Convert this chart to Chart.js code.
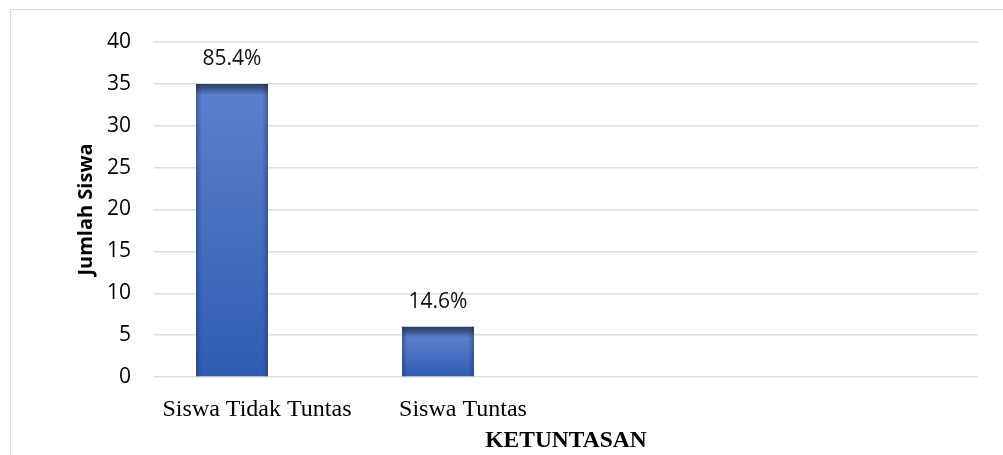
<!DOCTYPE html>
<html>
<head>
<meta charset="utf-8">
<script src="https://cdn.jsdelivr.net/npm/chart.js@4.4.0/dist/chart.umd.min.js"></script>
<style>
    html, body { margin: 0; padding: 0; background: #fff; }
    #wrap { position: relative; width: 1003px; height: 455px; overflow: hidden; }
    #frame { position: absolute; left: 10px; top: 9px; width: 1100px; height: 600px; border: 1.5px solid #d9dde4; }
    canvas { position: absolute; left: 0; top: 0; }
</style>
</head>
<body>
<div id="wrap">
    <div id="frame"></div>
    <canvas id="grafica" width="1003" height="455"></canvas>
</div>
<script>
// data dari grafik
const kategori = ['Siswa Tidak Tuntas', 'Siswa Tuntas'];
const jumlahSiswa = [35, 6];
const persentase = ['85.4%', '14.6%'];
const yMin = 0;
const yMax = 40;
const yStep = 5;

// gradasi vertikal batang (tepi atas gelap)
function isiBatang(ctx) {
    const chart = ctx.chart;
    const y = chart.scales.y;
    if (!y || !ctx.parsed) return '#4472c4';
    const top = y.getPixelForValue(ctx.parsed.y);
    const base = y.getPixelForValue(0);
    const h = base - top;
    if (!isFinite(h) || h < 2) return '#4472c4';
    const s = Math.min(0.45, 11 / h);
    const g = chart.ctx.createLinearGradient(0, top, 0, base);
    g.addColorStop(0, '#2b3d5f');
    g.addColorStop(s * 0.45, '#3b568b');
    g.addColorStop(s, '#5b80cb');
    g.addColorStop(1, '#2f5cb2');
    return g;
}

// bayangan di sisi kiri/kanan batang
const sombraLateral = {
    id: 'sombraLateral',
    afterDatasetsDraw(chart) {
        const c = chart.ctx;
        chart.getDatasetMeta(0).data.forEach(bar => {
            const p = bar.getProps(['x', 'y', 'base', 'width'], true);
            const l = p.x - p.width / 2;
            const g = c.createLinearGradient(l, 0, l + p.width, 0);
            g.addColorStop(0, 'rgba(25,45,95,0.45)');
            g.addColorStop(0.08, 'rgba(25,45,95,0)');
            g.addColorStop(0.92, 'rgba(25,45,95,0)');
            g.addColorStop(1, 'rgba(25,45,95,0.45)');
            c.save();
            c.fillStyle = g;
            c.fillRect(l, p.y, p.width, p.base - p.y);
            c.restore();
        });
    }
};

// label persen di atas batang
const labelPersen = {
    id: 'labelPersen',
    afterDatasetsDraw(chart) {
        const c = chart.ctx;
        c.save();
        c.font = '21px "Open Sans"';
        c.fillStyle = '#111';
        c.textAlign = 'center';
        c.textBaseline = 'middle';
        chart.getDatasetMeta(0).data.forEach((bar, i) => {
            c.fillText(persentase[i], bar.x, bar.y - 25);
        });
        c.restore();
    }
};

const canvas = document.getElementById('grafica');
new Chart(canvas, {
    type: 'bar',
    data: {
        labels: [...kategori, '', ''],
        datasets: [
            {
                label: 'Jumlah Siswa',
                data: jumlahSiswa,
                backgroundColor: isiBatang,
                borderWidth: 0,
                categoryPercentage: 0.4854,
                barPercentage: 1.44
            },
            {
                label: 'Persentase',
                data: [],
                categoryPercentage: 0.4854,
                barPercentage: 1.44
            }
        ]
    },
    options: {
        responsive: false,
        animation: false,
        layout: { padding: { left: 0, right: 25, top: 42, bottom: 0 } },
        plugins: {
            legend: { display: false },
            tooltip: { enabled: false }
        },
        scales: {
            x: {
                grid: { display: false },
                border: { display: false },
                ticks: {
                    color: '#000',
                    font: { family: 'Liberation Serif', size: 24 },
                    padding: 10,
                    maxRotation: 0,
                    autoSkip: false
                },
                title: {
                    display: true,
                    text: 'KETUNTASAN',
                    color: '#000',
                    font: { family: 'Liberation Serif', size: 23.5, weight: 'bold' },
                    padding: 0
                },
                afterFit: s => { s.height = 78; }
            },
            y: {
                min: yMin,
                max: yMax,
                grid: { color: '#d9dde4', lineWidth: 1.5, drawTicks: false },
                border: { display: false },
                ticks: {
                    stepSize: yStep,
                    color: '#000',
                    font: { family: 'Open Sans', size: 21 },
                    padding: 23
                },
                title: {
                    display: true,
                    text: 'Jumlah Siswa',
                    color: '#000',
                    font: { family: 'Open Sans', size: 20, weight: 'bold' },
                    padding: { top: 74, bottom: 0 }
                },
                afterFit: s => { s.width = 154; }
            }
        }
    },
    plugins: [sombraLateral, labelPersen]
});
</script>
</body>
</html>
